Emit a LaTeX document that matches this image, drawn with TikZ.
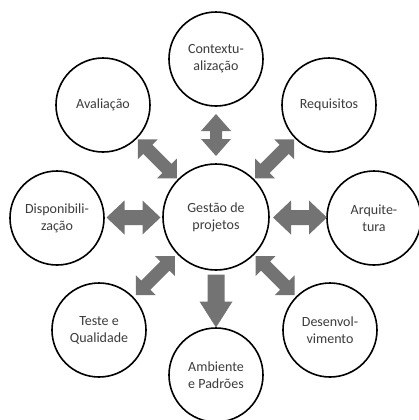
\documentclass[tikz,border=0pt]{standalone}
\usepackage{fontspec}
\setmainfont{Carlito}
\usetikzlibrary{calc}
\definecolor{ringtxt}{HTML}{3C3C3C}
\definecolor{arrowgray}{HTML}{737373}
\tikzset{
  bubble/.style={circle,draw=black,line width=1.6bp,fill=white,minimum size=94bp,inner sep=0pt,
    align=center,text=ringtxt,font=\fontsize{14bp}{17bp}\selectfont},
  hub/.style={bubble,minimum size=106bp},
  blockarrow/.style={fill=arrowgray,draw=none}
}
% #1 centre, #2 angle, #3 length, #4 head width, #5 shaft width, #6 head length
\newcommand\twowayarrow[6]{%
  \fill[blockarrow,shift={#1},rotate=#2]
    (-#3/2,0) -- (-#3/2+#6,#4/2) -- (-#3/2+#6,#5/2) -- (#3/2-#6,#5/2) -- (#3/2-#6,#4/2)
    -- (#3/2,0) -- (#3/2-#6,-#4/2) -- (#3/2-#6,-#5/2) -- (-#3/2+#6,-#5/2) -- (-#3/2+#6,-#4/2) -- cycle;}
\newcommand\onewayarrow[6]{%
  \fill[blockarrow,shift={#1},rotate=#2]
    (-#3/2,#5/2) -- (#3/2-#6,#5/2) -- (#3/2-#6,#4/2) -- (#3/2,0) -- (#3/2-#6,-#4/2)
    -- (#3/2-#6,-#5/2) -- (-#3/2,-#5/2) -- cycle;}
\begin{document}
\begin{tikzpicture}[x=1bp,y=-1bp]
\useasboundingbox (0,0) rectangle (419,420);
\node[hub] (g) at (216,217) {Gestão de\\projetos};
\node[bubble] (c) at (216,59) {Contextu-\\alização};
\node[bubble] (r) at (329,105) {Requisitos};
\node[bubble] (a) at (374,218) {Arquite-\\tura};
\node[bubble] (d) at (330,330) {Desenvol-\\vimento};
\node[bubble] (p) at (216,375) {Ambiente\\e Padrões};
\node[bubble] (t) at (99,330) {Teste e\\Qualidade};
\node[bubble] (s) at (57,218) {Disponibili-\\zação};
\node[bubble] (v) at (103,105) {Avaliação};
% arrows between the hub and the outer circles
\twowayarrow{($(g.north)!0.5!(c.south)$)}{90}{42}{30}{12}{17}
\twowayarrow{($(g.east)!0.5!(a.west)+(2,0)$)}{0}{54}{34}{15}{18}
\twowayarrow{($(g.west)!0.5!(s.east)$)}{0}{54}{34}{15}{18}
\twowayarrow{($(g.45)!0.5!(r.225)$)}{45}{55}{28}{13}{14}
\twowayarrow{($(g.135)!0.5!(v.-45)$)}{-45}{55}{28}{13}{14}
\twowayarrow{($(g.-45)!0.5!(d.135)$)}{-45}{55}{28}{13}{14}
\twowayarrow{($(g.-135)!0.5!(t.45)$)}{45}{55}{28}{13}{14}
\onewayarrow{($(g.south)!0.5!(p.north)+(0,2)$)}{-90}{53}{33}{17}{26}
\end{tikzpicture}
\end{document}
